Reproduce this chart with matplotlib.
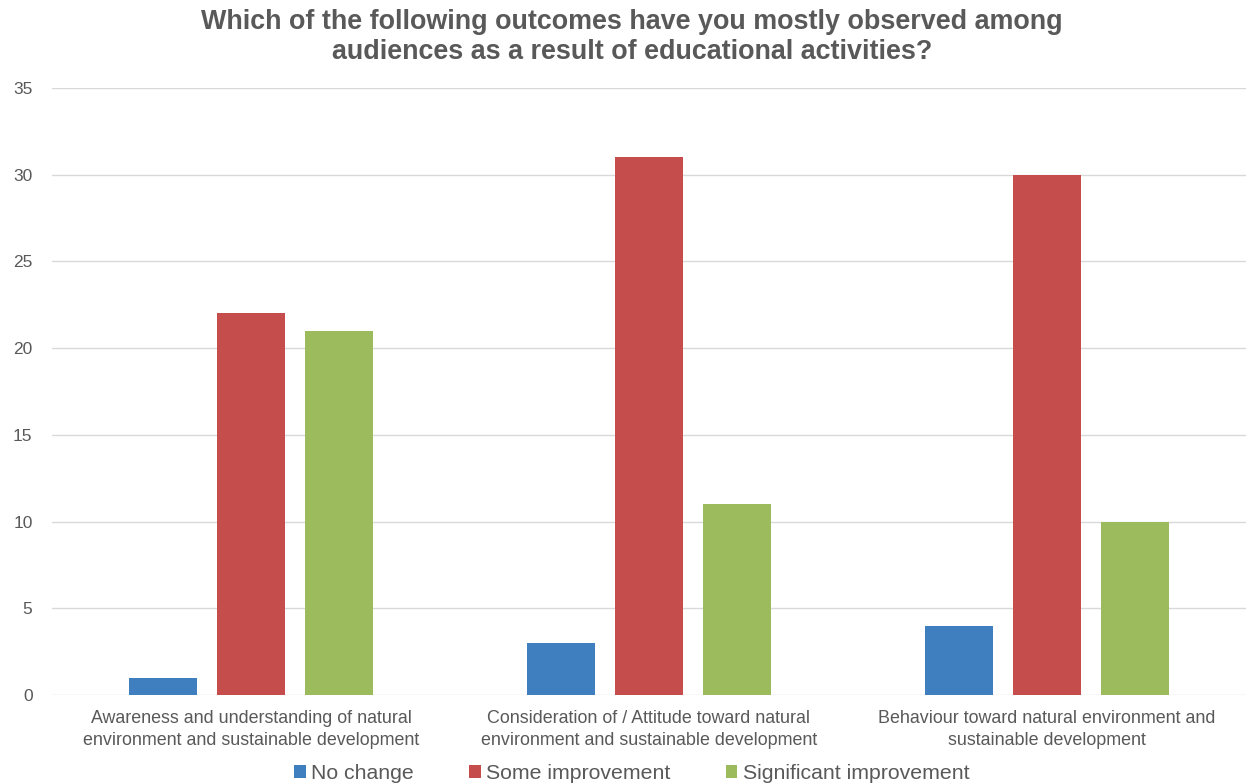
import matplotlib.pyplot as plt
import numpy as np

plt.rcParams['font.family'] = ['Liberation Sans', 'DejaVu Sans']

# Data
categories = [
    "Awareness and understanding of natural\nenvironment and sustainable development",
    "Consideration of / Attitude toward natural\nenvironment and sustainable development",
    "Behaviour toward natural environment and\nsustainable development",
]
series_names = ["No change", "Some improvement", "Significant improvement"]
no_change = [1, 3, 4]
some_improvement = [22, 31, 30]
significant_improvement = [21, 11, 10]
colors = ["#3F7FBF", "#C54E4D", "#9BBB5C"]

text_color = "#595959"

fig = plt.figure(figsize=(12.46, 7.84), dpi=100)
ax = fig.add_axes([0.0417, 0.1135, 0.9583, 0.7743])

x = np.arange(len(categories))
width = 0.171
step = 0.221
for i, (vals, name, c) in enumerate(zip(
        [no_change, some_improvement, significant_improvement], series_names, colors)):
    ax.bar(x + (i - 1) * step, vals, width, color=c, label=name, zorder=3)

ax.set_xlim(-0.5, 2.5)
ax.set_ylim(0, 35)
ax.set_yticks(range(0, 36, 5))
ax.set_xticks(x)
ax.set_xticklabels(categories, fontsize=12.9, color=text_color, linespacing=1.35)
ax.tick_params(axis='y', labelsize=12.5, labelcolor=text_color, length=0, pad=14)
ax.tick_params(axis='x', length=0, pad=11)
ax.grid(axis='y', color="#D9D9D9", linewidth=1, zorder=0)
for s in ax.spines.values():
    s.set_visible(False)

fig.suptitle("Which of the following outcomes have you mostly observed among\n"
             "audiences as a result of educational activities?",
             fontsize=19.4, fontweight='bold', color=text_color, x=0.507, y=0.988,
             va='top', linespacing=1.2)

leg = fig.legend(loc='lower center', ncol=3, frameon=False, fontsize=15.3,
                 bbox_to_anchor=(0.507, -0.023), handlelength=0.55, handleheight=0.55,
                 handletextpad=0.25, columnspacing=2.6)
for t in leg.get_texts():
    t.set_color(text_color)

plt.savefig("out.png", dpi=100)
